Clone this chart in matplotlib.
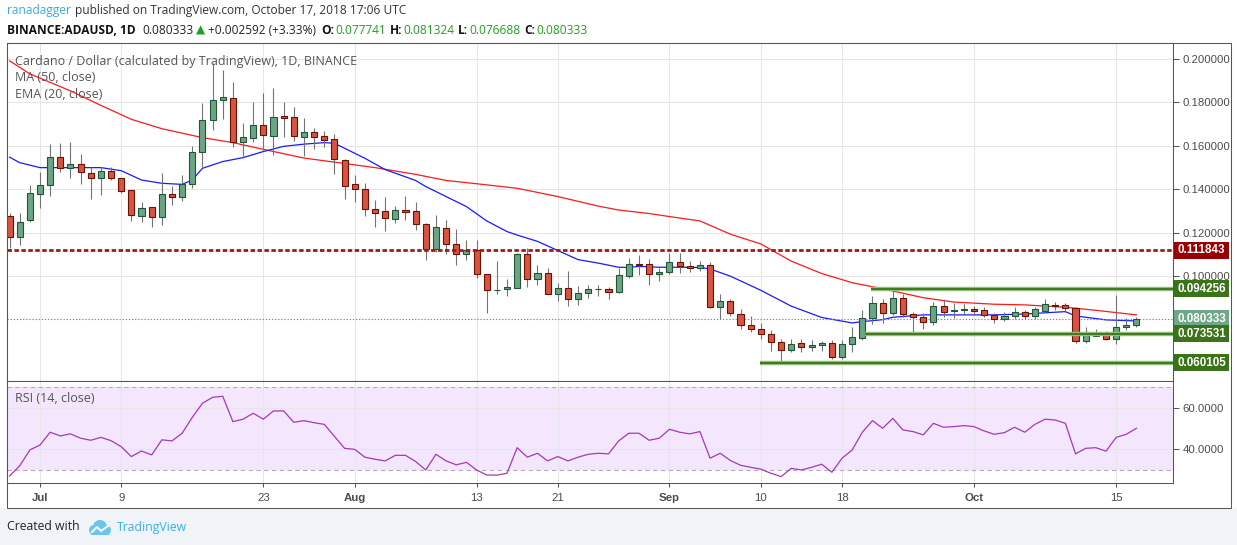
import numpy as np
import pandas as pd
import matplotlib
matplotlib.use("Agg")
import matplotlib.pyplot as plt
from matplotlib.patches import Rectangle, Circle

W, H = 1237, 545

# --- daily candles ADA/USD, 2018-06-28 .. 2018-10-17 ---
start_date = "2018-06-28"
open_ = [0.1277, 0.1182, 0.1257, 0.1379, 0.1418, 0.1547, 0.1496, 0.1514, 0.1473, 0.1450,
         0.1484, 0.1450, 0.1396, 0.1278, 0.1317, 0.1274, 0.1378, 0.1366, 0.1422, 0.1570,
         0.1718, 0.1809, 0.1818, 0.1616, 0.1634, 0.1694, 0.1645, 0.1735, 0.1730, 0.1641,
         0.1661, 0.1643, 0.1629, 0.1533, 0.1422, 0.1399, 0.1307, 0.1298, 0.1262, 0.1303,
         0.1298, 0.1240, 0.1127, 0.1220, 0.1146, 0.1100, 0.1119, 0.1009, 0.0935, 0.0939,
         0.0944, 0.1102, 0.0986, 0.1013, 0.0917, 0.0944, 0.0894, 0.0921, 0.0940, 0.0940,
         0.0929, 0.1003, 0.1057, 0.1054, 0.1008, 0.1018, 0.1067, 0.1048, 0.1036, 0.1050,
         0.0860, 0.0884, 0.0825, 0.0774, 0.0756, 0.0733, 0.0699, 0.0659, 0.0694, 0.0673,
         0.0685, 0.0694, 0.0630, 0.0687, 0.0714, 0.0806, 0.0875, 0.0832, 0.0898, 0.0826,
         0.0811, 0.0788, 0.0863, 0.0839, 0.0843, 0.0849, 0.0843, 0.0820, 0.0805, 0.0816,
         0.0834, 0.0816, 0.0842, 0.0869, 0.0867, 0.0852, 0.0704, 0.0727, 0.0733, 0.0713,
         0.0765, 0.077741]
high_ = [0.1292, 0.1289, 0.1419, 0.1478, 0.1606, 0.1610, 0.1619, 0.1560, 0.1504, 0.1504,
         0.1504, 0.1450, 0.1396, 0.1341, 0.1317, 0.1473, 0.1416, 0.1465, 0.1599, 0.1798,
         0.1979, 0.1948, 0.1894, 0.1703, 0.1802, 0.1841, 0.1864, 0.1802, 0.1779, 0.1726,
         0.1680, 0.1669, 0.1654, 0.1537, 0.1465, 0.1427, 0.1350, 0.1363, 0.1323, 0.1369,
         0.1341, 0.1243, 0.1281, 0.1258, 0.1217, 0.1166, 0.1166, 0.1009, 0.1070, 0.0987,
         0.1105, 0.1128, 0.1051, 0.1036, 0.0970, 0.1024, 0.0955, 0.0959, 0.0959, 0.0952,
         0.1039, 0.1082, 0.1097, 0.1079, 0.1036, 0.1105, 0.1105, 0.1071, 0.1071, 0.1064,
         0.0918, 0.0894, 0.0849, 0.0817, 0.0783, 0.0753, 0.0711, 0.0710, 0.0710, 0.0705,
         0.0702, 0.0705, 0.0705, 0.0768, 0.0844, 0.0909, 0.0895, 0.0937, 0.0918, 0.0837,
         0.0832, 0.0883, 0.0894, 0.0878, 0.0872, 0.0863, 0.0857, 0.0830, 0.0837, 0.0860,
         0.0845, 0.0860, 0.0894, 0.0880, 0.0875, 0.0860, 0.0768, 0.0757, 0.0750, 0.0914,
         0.0806, 0.081324]
low_ = [0.1130, 0.1143, 0.1250, 0.1315, 0.1370, 0.1481, 0.1450, 0.1422, 0.1356, 0.1372,
        0.1442, 0.1384, 0.1255, 0.1249, 0.1225, 0.1235, 0.1327, 0.1347, 0.1404, 0.1504,
        0.1672, 0.1723, 0.1596, 0.1542, 0.1619, 0.1580, 0.1557, 0.1642, 0.1620, 0.1553,
        0.1583, 0.1595, 0.1470, 0.1353, 0.1343, 0.1277, 0.1228, 0.1209, 0.1243, 0.1258,
        0.1212, 0.1074, 0.1113, 0.1102, 0.1051, 0.1074, 0.0993, 0.0832, 0.0917, 0.0910,
        0.0944, 0.0952, 0.0959, 0.0917, 0.0887, 0.0864, 0.0866, 0.0901, 0.0911, 0.0895,
        0.0921, 0.0993, 0.1006, 0.0959, 0.0980, 0.1010, 0.1016, 0.1021, 0.1024, 0.0855,
        0.0803, 0.0817, 0.0759, 0.0741, 0.0710, 0.0658, 0.0602, 0.0650, 0.0650, 0.0658,
        0.0658, 0.0621, 0.0621, 0.0653, 0.0707, 0.0780, 0.0783, 0.0822, 0.0811, 0.0734,
        0.0757, 0.0775, 0.0814, 0.0806, 0.0822, 0.0822, 0.0811, 0.0783, 0.0794, 0.0803,
        0.0802, 0.0803, 0.0834, 0.0845, 0.0834, 0.0694, 0.0694, 0.0727, 0.0707, 0.0688,
        0.0753, 0.076688]
close_ = [0.1179, 0.1251, 0.1381, 0.1418, 0.1547, 0.1496, 0.1514, 0.1478, 0.1450, 0.1484,
          0.1450, 0.1393, 0.1281, 0.1312, 0.1274, 0.1378, 0.1366, 0.1422, 0.1570, 0.1718,
          0.1809, 0.1822, 0.1616, 0.1638, 0.1694, 0.1649, 0.1734, 0.1728, 0.1645, 0.1661,
          0.1641, 0.1628, 0.1537, 0.1416, 0.1399, 0.1307, 0.1292, 0.1266, 0.1303, 0.1297,
          0.1238, 0.1127, 0.1226, 0.1146, 0.1100, 0.1119, 0.1009, 0.0935, 0.0937, 0.0949,
          0.1102, 0.0986, 0.1013, 0.0917, 0.0944, 0.0894, 0.0921, 0.0940, 0.0942, 0.0929,
          0.1005, 0.1054, 0.1053, 0.1008, 0.1018, 0.1067, 0.1048, 0.1036, 0.1050, 0.0860,
          0.0886, 0.0829, 0.0774, 0.0756, 0.0733, 0.0696, 0.0659, 0.0690, 0.0673, 0.0685,
          0.0694, 0.0630, 0.0687, 0.0719, 0.0806, 0.0875, 0.0832, 0.0898, 0.0825, 0.0811,
          0.0788, 0.0863, 0.0837, 0.0845, 0.0849, 0.0842, 0.0820, 0.0805, 0.0817, 0.0834,
          0.0816, 0.0849, 0.0872, 0.0865, 0.0852, 0.0704, 0.0730, 0.0732, 0.0713, 0.0765,
          0.077741, 0.080333]

rsi = [26.9, 31.8, 39.5, 41.9, 48.1, 46.3, 47.3, 45.2, 44.2, 45.6,
       44.0, 41.1, 36.3, 39.0, 37.1, 44.4, 43.9, 47.6, 55.3, 62.1,
       65.0, 65.5, 53.2, 54.4, 57.3, 54.4, 58.4, 58.4, 52.9, 53.7,
       52.7, 51.9, 46.1, 40.3, 39.8, 36.0, 35.0, 34.2, 36.9, 36.9,
       33.9, 29.8, 37.4, 34.2, 32.3, 33.5, 29.8, 27.4, 27.3, 28.2,
       40.6, 36.0, 37.9, 34.2, 36.3, 34.2, 36.0, 37.4, 37.9, 37.6,
       43.9, 47.6, 47.6, 44.2, 45.2, 49.5, 48.1, 47.3, 48.4, 35.5,
       37.9, 34.4, 32.1, 31.1, 30.2, 28.2, 26.6, 30.6, 29.8, 31.1,
       32.6, 28.7, 35.5, 39.5, 48.1, 53.7, 50.0, 54.8, 49.2, 48.4,
       46.8, 52.4, 50.5, 50.8, 51.3, 50.8, 48.7, 47.1, 47.9, 50.5,
       48.1, 51.9, 54.4, 54.0, 52.4, 37.6, 40.3, 40.6, 38.9, 45.6,
       47.1, 50.0]

# moving averages read at a few days (offset in days from Jul 1)
ma50_days = [-3, -1, 3, 6, 9, 12, 16, 19, 22, 26, 30, 33, 37, 40, 43, 47, 51, 55, 57, 60,
             62, 65, 68, 71, 74, 77, 80, 83, 87, 90, 94, 97, 101, 104, 108]
ma50_vals = [0.1990, 0.1930, 0.1852, 0.1785, 0.1721, 0.1678, 0.1637, 0.1614, 0.1583, 0.1543,
             0.1518, 0.1499, 0.1468, 0.1440, 0.1425, 0.1404, 0.1366, 0.1322, 0.1304, 0.1288,
             0.1274, 0.1254, 0.1193, 0.1148, 0.1069, 0.1012, 0.0970, 0.0942, 0.0901, 0.0881,
             0.0871, 0.0868, 0.0857, 0.0843, 0.0822]
ema20_days = [-3, -2, 0, 3, 6, 8, 10, 12, 14, 15, 16, 18, 20, 22, 24, 26, 28, 29, 30, 32,
              34, 37, 38, 40, 42, 44, 46, 47, 49, 51, 53, 55, 57, 58, 59, 61, 63, 65, 66, 68,
              71, 74, 77, 80, 81, 83, 84, 87, 91, 94, 97, 101, 102, 105, 108]
ema20_vals = [0.1547, 0.1522, 0.1499, 0.1499, 0.1499, 0.1485, 0.1442, 0.1427, 0.1422, 0.1442,
              0.1496, 0.1527, 0.1545, 0.1573, 0.1597, 0.1607, 0.1614, 0.1611, 0.1588, 0.1542,
              0.1490, 0.1440, 0.1412, 0.1366, 0.1320, 0.1254, 0.1205, 0.1189, 0.1160, 0.1118,
              0.1076, 0.1060, 0.1041, 0.1040, 0.1045, 0.1041, 0.1041, 0.1040, 0.1033, 0.1000,
              0.0935, 0.0862, 0.0810, 0.0785, 0.0791, 0.0800, 0.0811, 0.0822, 0.0822, 0.0822,
              0.0826, 0.0837, 0.0817, 0.0799, 0.0794]

# drawn levels
resist_level = 0.111843
support_levels = [0.094256, 0.073531, 0.060105]
support_from = [81.9, 81.3, 70.9]
last_price = 0.080333

price_ticks = [0.10, 0.12, 0.14, 0.16, 0.18, 0.20]
rsi_ticks = [40, 60]
date_ticks = ["2018-07-01", "2018-07-09", "2018-07-23", "2018-08-01", "2018-08-13",
              "2018-08-21", "2018-09-01", "2018-09-10", "2018-09-18", "2018-10-01", "2018-10-15"]
date_labels = ["Jul", "9", "23", "Aug", "13", "21", "Sep", "10", "18", "Oct", "15"]

# --- colours ---
UP_FILL, UP_EDGE = "#6ba583", "#225437"
DN_FILL, DN_EDGE = "#d75442", "#6b1100"
WICK = "#737375"
TXT = "#4c4c4c"
GRID = "#e6e6e6"
FRAME = "#555555"
DKGREEN = "#3a7318"

base = pd.Timestamp("2018-07-01")
dates = pd.date_range(start_date, periods=len(close_), freq="D")
x = np.array((dates - base).days, dtype=float)
o, h, l, c = map(np.array, (open_, high_, low_, close_))

plt.rcParams["font.family"] = ["Open Sans", "DejaVu Sans"]

fig = plt.figure(figsize=(W / 100, H / 100), dpi=100)
fig.patch.set_facecolor("#f0f3f7")
fig.patches.append(Rectangle((0, 1 - 508 / H), 1, 508 / H, transform=fig.transFigure,
                             fc="white", ec="none", zorder=-10))
fig.patches.append(Rectangle((6.5 / W, 1 - 507.5 / H), 1224 / W, 465 / H, transform=fig.transFigure,
                             fill=False, ec=FRAME, lw=0.75, zorder=5))

ax = fig.add_axes([7 / W, 1 - 381 / H, 1166 / W, 338 / H])
ar = fig.add_axes([7 / W, 1 - 483 / H, 1166 / W, 102 / H], sharex=ax)

xt = [(pd.Timestamp(d) - base).days for d in date_ticks]
for a in (ax, ar):
    a.set_facecolor("white")
    for s in a.spines.values():
        s.set_color(FRAME)
        s.set_linewidth(0.75)
    a.grid(True, color=GRID, lw=0.75)
    a.set_axisbelow(True)
    a.yaxis.tick_right()
    a.tick_params(axis="y", length=4, width=0.75, color=FRAME, labelcolor=TXT,
                  labelsize=8.2, pad=3)

ax.set_xlim(-3.25, 111.6)
ax.set_ylim(0.0518, 0.2072)
ax.set_yticks(price_ticks)
ax.set_yticklabels([f"{v:.6f}" for v in price_ticks], family="Liberation Sans")
ax.tick_params(axis="x", length=0, labelbottom=False)

# --- moving averages ---
ax.plot(ma50_days, ma50_vals, color="#ff1a1a", lw=0.9, zorder=2)
ax.plot(ema20_days, ema20_vals, color="#1a1aff", lw=0.9, zorder=2)

# --- candles ---
up = c >= o
ax.vlines(x, l, h, color=WICK, lw=0.8, zorder=3)
body = np.maximum(np.abs(c - o), 0.0002)
ax.bar(x, body, bottom=np.minimum(o, c), width=0.6,
       color=np.where(up, UP_FILL, DN_FILL), edgecolor=np.where(up, UP_EDGE, DN_EDGE),
       lw=0.8, zorder=4)

# --- levels ---
ax.axhline(last_price, color="#6a9a80", lw=0.8, ls=(0, (1.2, 1.6)), zorder=3)
ax.axhline(resist_level, color="#a01818", lw=2.0, ls=(0, (1.6, 0.9)), zorder=5)
for lv, x0 in zip(support_levels, support_from):
    ax.plot([x0, 111.6], [lv, lv], color="#8fbf78", lw=3.2, zorder=5, solid_capstyle="butt")
    ax.plot([x0, 111.6], [lv, lv], color=DKGREEN, lw=1.3, zorder=6, solid_capstyle="butt")

# price tags on the right scale
tags = [(resist_level, "#990000"), (support_levels[0], DKGREEN), (last_price, "#6fa888"),
        (support_levels[1], DKGREEN), (support_levels[2], DKGREEN)]
to_fig = fig.transFigure.inverted()
for lv, col in tags:
    yp = to_fig.transform(ax.transData.transform((0, lv)))[1]
    fig.patches.append(Rectangle((1174 / W, yp - 8.5 / H), 55 / W, 17 / H,
                                 transform=fig.transFigure, fc=col, ec="none", zorder=6))
    fig.text(1201.5 / W, yp, f"{lv:.6f}", color="white", fontsize=8.4, weight="bold",
             family="Liberation Sans", ha="center", va="center", zorder=7)

# --- RSI pane ---
ar.set_ylim(23.5, 72.9)
ar.axhspan(30, 70, color="#f3e6fd", lw=0, zorder=0.2)
for lv in (30, 70):
    ar.axhline(lv, color="#b9aac4", lw=0.8, ls=(0, (4, 3)), zorder=0.6)
ar.plot(x, rsi, color="#a23bb8", lw=0.9, zorder=3)
ar.set_yticks(rsi_ticks)
ar.set_yticklabels([f"{v:.4f}" for v in rsi_ticks], family="Liberation Sans")
ar.set_xticks(xt)
ar.set_xticklabels(date_labels, family="Liberation Sans")
ar.tick_params(axis="x", length=3, width=0.75, color=FRAME, labelcolor=TXT, labelsize=8.2, pad=4)
for lab in ar.get_xticklabels():
    if not lab.get_text().isdigit():
        lab.set_weight("bold")

# --- texts inside panes ---
def px(xp, yp):
    return xp / W, 1 - yp / H

fig.text(*px(15, 61), "Cardano / Dollar (calculated by TradingView), 1D, BINANCE",
         color="#555555", fontsize=9, va="center")
fig.text(*px(15, 77.5), "MA (50, close)", color="#555555", fontsize=9, va="center")
fig.text(*px(15, 94), "EMA (20, close)", color="#555555", fontsize=9, va="center")
fig.text(*px(15, 398), "RSI (14, close)", color="#555555", fontsize=9, va="center")

# --- header runs ---
renderer = fig.canvas.get_renderer()

def run(pieces, x0, yc, size=8.6):
    xp = x0
    for s, col, wt, gap in pieces:
        t = fig.text(xp / W, 1 - yc / H, s, color=col, weight=wt, fontsize=size,
                     va="center", ha="left")
        xp += t.get_window_extent(renderer).width + gap

run([("ranadagger", "#3aa8e0", "normal", 4),
     ("published on TradingView.com, October 17, 2018 17:06 UTC", "#333333", "normal", 0)],
    7, 10.5)
G = "#1fa01f"
run([("BINANCE:ADAUSD, 1D", "#111111", "bold", 7),
     ("0.080333", "#222222", "normal", 2),
     ("\u25b2", G, "normal", 3),
     ("+0.002592 (+3.33%)", "#222222", "normal", 5),
     ("O:", "#111111", "bold", 1), ("0.077741", G, "normal", 4),
     ("H:", "#111111", "bold", 1), ("0.081324", G, "normal", 4),
     ("L:", "#111111", "bold", 1), ("0.076688", G, "normal", 4),
     ("C:", "#111111", "bold", 1), ("0.080333", G, "normal", 0)],
    7, 30)

# --- footer ---
fig.text(*px(7, 527), "Created with", color="#222222", fontsize=8.8, va="center")
fig.text(*px(117, 527), "TradingView", color="#3bb0e0", fontsize=8.8, va="center")
lg = fig.add_axes([88 / W, 1 - 536 / H, 24 / W, 18 / H])
lg.set_xlim(0, 24)
lg.set_ylim(0, 18)
lg.axis("off")
for cx, cy, r in [(6, 6, 5), (12, 9, 7), (18, 6, 5)]:
    lg.add_patch(Circle((cx, cy), r, fc="#6cc5ec", ec="none"))
lg.add_patch(Rectangle((3, 1), 18, 6, fc="#6cc5ec", ec="none"))
lg.plot([4, 9, 13, 20], [4, 9, 5, 10], color="white", lw=1.4)

fig.savefig("out.png", dpi=100, facecolor=fig.get_facecolor())
